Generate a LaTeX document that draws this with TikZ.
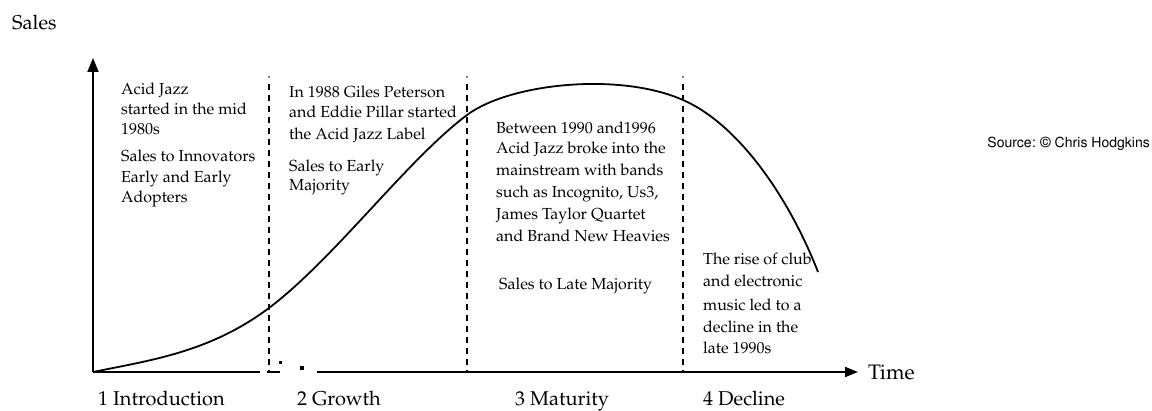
\documentclass[tikz,border=0pt]{standalone}
\usepackage[T1]{fontenc}
\usepackage{mathpazo}
\usepackage{helvet}
\usetikzlibrary{arrows.meta}
\tikzset{
  ax/.style={line width=1.8pt},
  curveline/.style={line width=1.8pt, line join=round},
  phase/.style={line width=1.6pt, dash pattern=on 6pt off 5pt},
  body/.style={anchor=base west, inner sep=0pt, font=\fontsize{16}{20}\selectfont},
  stage/.style={anchor=base west, inner sep=0pt, font=\fontsize{20}{24}\selectfont},
}
\begin{document}
\begin{tikzpicture}[x=1pt,y=-1pt]
\useasboundingbox[fill=white] (0,0) rectangle (1152,411);
% axes
\coordinate (O) at (93,372);
\coordinate (Ytip) at (93,58);
\coordinate (A1) at (260,372);
\coordinate (B0) at (267,372);
\coordinate (B1) at (280,372);
\coordinate (C0) at (317,372);
\coordinate (Xtip) at (858,372);
\draw[ax,-{Triangle[length=14pt,width=11pt]}] (O) -- (Ytip);
\draw[ax] (O) -- (A1);
\draw[ax] (B0) -- (B1);
\draw[ax,-{Triangle[length=13pt,width=10pt]}] (C0) -- (Xtip);
\fill (279,361) rectangle (282,364);
\fill (300,366) rectangle (304,370);
% phase dividers
\foreach \x/\n in {269/d1,467/d2,683/d3}{
  \coordinate (\n t) at (\x,77);
  \coordinate (\n b) at (\x,372);
  \fill (\x,77) circle (0.9pt);
  \draw[phase] (\x,84) -- (\n b);
}
% curve
\coordinate (P1) at (269,308);
\coordinate (P2) at (467,115);
\coordinate (P3) at (683,100);
\coordinate (P4) at (818,272);
\draw[curveline] (O) .. controls (152,360) and (210,352) .. (P1)
  .. controls (335,258) and (407,160) .. (P2)
  .. controls (510,83) and (620,72) .. (P3)
  .. controls (740,125) and (790,200) .. (P4);
% axis labels
\node[anchor=base west, inner sep=0pt, font=\fontsize{20}{24}\selectfont] (sales) at (12,30) {Sales};
\node[anchor=base west, inner sep=0pt, font=\fontsize{21}{24}\selectfont] (time) at (868,380) {Time};
\node[anchor=base east, inner sep=0pt, font=\fontsize{14}{16}\sffamily\selectfont] (src) at (1150,148) {Source: \textcopyright{} Chris Hodgkins};
% stage labels
\node[stage] (s1) at (98,406) {1 Introduction};
\node[stage] (s2) at (297,406) {2 Growth};
\node[stage] (s3) at (515,406) {3 Maturity};
\node[stage] (s4) at (703,406) {4 Decline};
% column 1
\foreach \y/\t in {95/{Acid Jazz},115/{started in the mid},135/{1980s},162/{Sales to Innovators},183/{Early and Early},203/{Adopters}}{
  \node[body] (c1-\y) at (121,\y) {\t};
}
% column 2
\foreach \y/\t in {98/{In 1988 Giles Peterson},118/{and Eddie Pillar started},140/{the Acid Jazz Label},172/{Sales to Early},191/{Majority}}{
  \node[body] (c2-\y) at (289,\y) {\t};
}
% column 3
\foreach \y/\t in {134/{Between 1990 and1996},154/{Acid Jazz broke into the},176/{mainstream with bands},198/{such as Incognito, Us3,},220/{James Taylor Quartet},242/{and Brand New Heavies}}{
  \node[body] (c3-\y) at (496,\y) {\t};
}
\node[body] (c3-late) at (499,290) {Sales to Late Majority};
% column 4
\foreach \y/\t in {265/{The rise of club},287/{and electronic},311/{music led to a},333/{decline in the},354/{late 1990s}}{
  \node[body] (c4-\y) at (703,\y) {\t};
}
\end{tikzpicture}
\end{document}
